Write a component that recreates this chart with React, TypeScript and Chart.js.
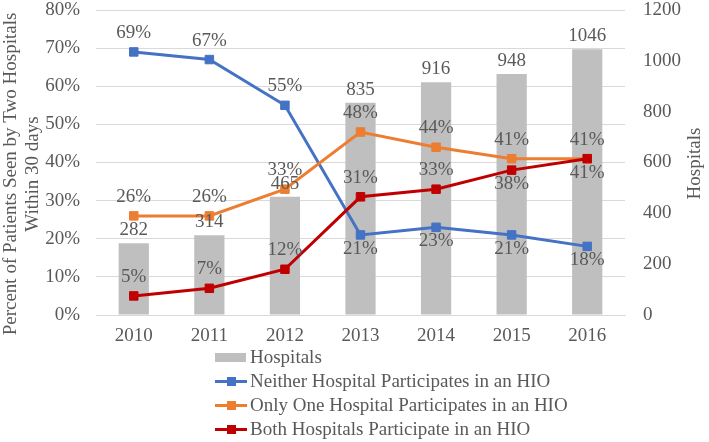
import React, { useEffect, useRef } from 'react';
import { Chart, registerables } from 'chart.js';

Chart.register(...registerables);

const years = ['2010', '2011', '2012', '2013', '2014', '2015', '2016'];
const hospitals = [282, 314, 465, 835, 916, 948, 1046];
const neither = [69, 67, 55, 21, 23, 21, 18];
const onlyOne = [26, 26, 33, 48, 44, 41, 41];
const both = [5, 7, 12, 31, 33, 38, 41];

const hospitalsLabelPos = ['above', 'above', 'above', 'above', 'above', 'above', 'above'];
const neitherLabelPos = ['above', 'above', 'above', 'below', 'below', 'below', 'below'];
const onlyOneLabelPos = ['above', 'above', 'above', 'above', 'above', 'above', 'above'];
const bothLabelPos = ['above', 'above', 'above', 'above', 'above', 'below', 'below'];

const leftTitle = ['Percent of Patients Seen by Two Hospitals', 'Within 30 days'];
const rightTitle = 'Hospitals';

const FONT = "'Liberation Serif', 'Times New Roman', serif";
const TEXT = '#595959';
const GRID = '#D9D9D9';
const BLUE = '#4472C4';
const ORANGE = '#ED7D31';
const RED = '#C00000';
const GRAY = '#BFBFBF';

const legendItems = [
  { label: 'Hospitals', color: GRAY, kind: 'bar' },
  { label: 'Neither Hospital Participates in an HIO', color: BLUE, kind: 'line' },
  { label: 'Only One Hospital Participates in an HIO', color: ORANGE, kind: 'line' },
  { label: 'Both Hospitals Participate in an HIO', color: RED, kind: 'line' },
];

export default function App() {
  const ref = useRef<HTMLCanvasElement>(null);

  useEffect(() => {
    if (!ref.current) return;
    const labelPlugin = {
      id: 'valueLabels',
      afterDatasetsDraw(chart: any) {
        const ctx = chart.ctx;
        ctx.save();
        ctx.font = `19px ${FONT}`;
        ctx.fillStyle = TEXT;
        ctx.textAlign = 'center';
        ctx.textBaseline = 'middle';
        chart.data.datasets.forEach((ds: any, di: number) => {
          const meta = chart.getDatasetMeta(di);
          const isBar = ds.type === 'bar';
          meta.data.forEach((el: any, i: number) => {
            const v = ds.data[i];
            const text = isBar ? String(v) : v + '%';
            const below = ds.labelPos[i] === 'below';
            const y = below ? el.y + 14 : el.y - (isBar ? 13 : 19);
            ctx.fillText(text, el.x, y);
          });
        });
        ctx.restore();
      },
    };

    const axisTitlesPlugin = {
      id: 'axisTitles',
      afterDraw(chart: any) {
        const ctx = chart.ctx;
        const area = chart.chartArea;
        const midY = (area.top + area.bottom) / 2;
        ctx.save();
        ctx.font = `19px ${FONT}`;
        ctx.fillStyle = TEXT;
        ctx.textAlign = 'center';
        ctx.textBaseline = 'middle';
        // left title (two lines)
        leftTitle.forEach((t, i) => {
          ctx.save();
          ctx.translate(11.5 + i * 21.5, midY + 11.5);
          ctx.rotate(-Math.PI / 2);
          ctx.fillText(t, 0, 0);
          ctx.restore();
        });
        // right title
        ctx.save();
        ctx.translate(chart.width - 14, midY + 1);
        ctx.rotate(-Math.PI / 2);
        ctx.fillText(rightTitle, 0, 0);
        ctx.restore();
        ctx.restore();
      },
    };

    const tickFont = { family: FONT, size: 19 };
    const line = (label: string, data: number[], color: string, order: number, labelPos: string[]) => ({
      type: 'line' as const,
      label,
      data,
      yAxisID: 'y',
      borderColor: color,
      backgroundColor: color,
      borderWidth: 3,
      pointStyle: 'rect',
      pointRadius: 6,
      pointBorderWidth: 1,
      pointBackgroundColor: color,
      pointBorderColor: color,
      tension: 0,
      order,
      labelPos,
    });
    const noPad = (s: any) => { s.paddingTop = 0; s.paddingBottom = 0; s.paddingLeft = 0; s.paddingRight = 0; };

    const chart = new Chart(ref.current, {
      type: 'bar',
      data: {
        labels: years,
        datasets: [
          line('Both Hospitals Participate in an HIO', both, RED, 1, bothLabelPos),
          line('Only One Hospital Participates in an HIO', onlyOne, ORANGE, 2, onlyOneLabelPos),
          line('Neither Hospital Participates in an HIO', neither, BLUE, 3, neitherLabelPos),
          {
            type: 'bar' as const,
            label: 'Hospitals',
            data: hospitals,
            yAxisID: 'y1',
            backgroundColor: GRAY,
            categoryPercentage: 1,
            barPercentage: 0.4,
            order: 4,
            labelPos: hospitalsLabelPos,
          } as any,
        ] as any,
      },
      options: {
        responsive: false,
        animation: false,
        layout: { padding: { top: 10, left: 0, right: 0, bottom: 0 } },
        plugins: { legend: { display: false }, tooltip: { enabled: false } },
        scales: {
          x: {
            grid: { display: false, drawTicks: false },
            border: { display: true, color: GRID },
            ticks: { font: tickFont, color: TEXT, padding: 10 },
            afterFit: (s: any) => { s.height = 127; noPad(s); },
          },
          y: {
            position: 'left',
            min: 0,
            max: 80,
            ticks: { stepSize: 10, callback: (v: any) => v + '%', padding: 16, font: tickFont, color: TEXT },
            grid: { color: GRID, drawTicks: false },
            border: { display: false },
            afterFit: (s: any) => { s.width = 96; noPad(s); },
          },
          y1: {
            position: 'right',
            min: 0,
            max: 1200,
            ticks: { stepSize: 200, padding: 18, font: tickFont, color: TEXT, callback: (v: any) => String(v) },
            grid: { drawOnChartArea: false, drawTicks: false },
            border: { display: false },
            afterFit: (s: any) => { s.width = 84; noPad(s); },
          },
        },
      } as any,
      plugins: [labelPlugin, axisTitlesPlugin],
    });
    return () => chart.destroy();
  }, []);

  return (
    <div style={{ position: 'absolute', left: 0, top: 0, width: 709, height: 442, background: '#fff' }}>
      <canvas ref={ref} width={709} height={442} style={{ width: 709, height: 442, display: 'block' }} />
      <div style={{ position: 'absolute', left: 215, top: 345, fontFamily: FONT, fontSize: 19, color: TEXT }}>
        {legendItems.map((it) => (
          <div key={it.label} style={{ display: 'flex', alignItems: 'center', height: 24, lineHeight: '24px', whiteSpace: 'nowrap' }}>
            <div style={{ position: 'relative', width: 32, height: 24, marginRight: 3 }}>
              {it.kind === 'bar' ? (
                <div style={{ position: 'absolute', left: 0, top: 7.5, width: 31, height: 9, background: it.color }} />
              ) : (
                <>
                  <div style={{ position: 'absolute', left: 0, top: 10.5, width: 32, height: 3, background: it.color }} />
                  <div style={{ position: 'absolute', left: 11.5, top: 7.5, width: 9, height: 9, background: it.color }} />
                </>
              )}
            </div>
            <span>{it.label}</span>
          </div>
        ))}
      </div>
    </div>
  );
}
